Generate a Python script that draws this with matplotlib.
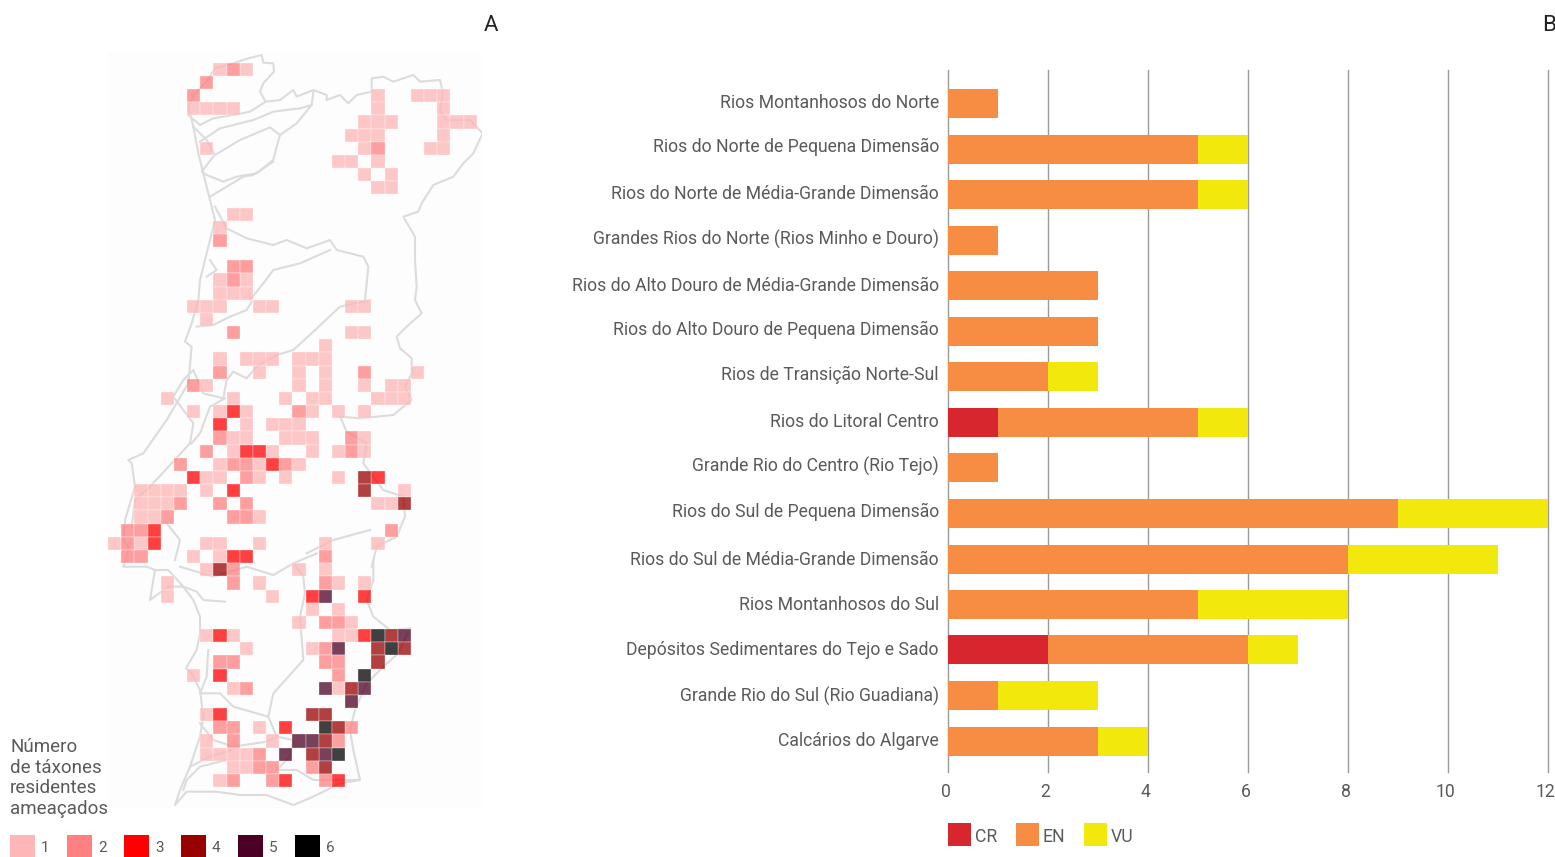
import numpy as np
import matplotlib
matplotlib.use('Agg')
import matplotlib.pyplot as plt
from matplotlib.patches import Rectangle
from matplotlib import transforms

plt.rcParams['font.family'] = ['Roboto', 'DejaVu Sans']

W, H = 1555, 857
TXT = '#5a5a5a'

# bar chart data
regions = ['Rios Montanhosos do Norte', 'Rios do Norte de Pequena Dimensão',
           'Rios do Norte de Média-Grande Dimensão', 'Grandes Rios do Norte (Rios Minho e Douro)',
           'Rios do Alto Douro de Média-Grande Dimensão', 'Rios do Alto Douro de Pequena Dimensão',
           'Rios de Transição Norte-Sul', 'Rios do Litoral Centro', 'Grande Rio do Centro (Rio Tejo)',
           'Rios do Sul de Pequena Dimensão', 'Rios do Sul de Média-Grande Dimensão',
           'Rios Montanhosos do Sul', 'Depósitos Sedimentares do Tejo e Sado',
           'Grande Rio do Sul (Rio Guadiana)', 'Calcários do Algarve']
cr = [0, 0, 0, 0, 0, 0, 0, 1, 0, 0, 0, 0, 2, 0, 0]
en = [1, 5, 5, 1, 3, 3, 2, 4, 1, 9, 8, 5, 4, 1, 3]
vu = [0, 1, 1, 0, 0, 0, 1, 1, 0, 3, 3, 3, 1, 2, 1]
label_shift = [-3, -4.5, -3, -3, -2, -4, -4, -2, -4, -4, -1, -2, -2, -1, -2]  # px

# map: threatened taxa per grid cell, {row: {value: [cols]}}
cells = {
    0: {1: [8, 10], 2: [9]}, 1: {2: [7]}, 2: {2: [6], 1: [20, 23, 24, 25]},
    3: {1: [6, 7, 8, 9, 20, 25]}, 4: {1: [19, 20, 21, 25, 26, 27]}, 5: {1: [18, 19, 20, 25]},
    6: {1: [7, 19, 24, 25], 2: [20]}, 7: {1: [17, 18, 20]}, 8: {1: [19, 21]}, 9: {1: [20, 21]},
    11: {1: [9, 10]}, 12: {1: [8]}, 13: {2: [8]}, 15: {2: [9, 10]}, 16: {1: [8, 10], 2: [9]},
    17: {1: [8, 9, 10]}, 18: {1: [6, 7, 8, 11, 12, 18, 19]}, 19: {1: [7]},
    20: {2: [9], 1: [18, 19]}, 21: {1: [16]}, 22: {1: [8, 10, 11, 12, 14, 15, 16]},
    23: {2: [8, 19], 1: [11, 14, 16, 23]}, 24: {2: [6], 1: [7, 14, 16, 19, 21, 22]},
    25: {1: [4, 9, 13, 15, 16, 20, 21, 22]}, 26: {1: [6, 8, 10, 15, 17, 19], 3: [9], 2: [14]},
    27: {3: [8], 1: [10, 12, 13, 14]}, 28: {2: [8, 18], 1: [9, 10, 13, 14, 15, 19]},
    29: {2: [7, 18], 1: [9, 12, 15, 17, 19], 3: [10, 11]},
    30: {2: [5, 9, 10, 13], 1: [8, 11, 14], 3: [12]},
    31: {3: [6, 20], 1: [7, 8, 11, 13, 17], 2: [10], 4: [19]},
    32: {1: [2, 3, 4, 5, 7, 22], 3: [9], 4: [19]}, 33: {1: [2, 3, 4, 20, 21], 2: [5, 8, 10], 4: [22]},
    34: {1: [2, 3, 11], 2: [4, 9, 10]}, 35: {2: [1, 2, 21], 3: [3]},
    36: {1: [0, 2, 7, 8, 11, 16, 20], 2: [1], 3: [3]}, 37: {2: [1, 2, 16], 1: [6, 8], 3: [9, 10]},
    38: {1: [7, 14, 16], 4: [8], 2: [9]}, 39: {1: [4, 11, 17, 19], 2: [9, 16]},
    40: {1: [4, 12], 3: [15, 19], 5: [16]}, 41: {1: [15, 17]}, 42: {1: [14, 18], 2: [16, 17]},
    43: {1: [7, 9, 17, 18], 3: [8, 19], 6: [20], 4: [21], 5: [22]},
    44: {1: [10, 15], 2: [16], 5: [17], 4: [20, 22], 6: [21]}, 45: {2: [8, 9, 16, 17], 4: [20]},
    46: {1: [6], 3: [8], 2: [17], 6: [19]}, 47: {1: [9, 17], 2: [10], 5: [16, 19], 4: [18]},
    48: {5: [18]}, 49: {1: [7], 3: [8], 4: [15, 16]}, 50: {2: [8, 9, 18], 1: [11], 3: [13], 6: [16], 4: [17]},
    51: {1: [7, 12], 2: [9, 17], 5: [14, 15], 4: [16]},
    52: {1: [7, 8, 9, 10], 2: [11], 5: [13, 16], 4: [15], 6: [17]},
    53: {1: [9, 10], 2: [11, 12, 15], 4: [16]}, 54: {1: [8], 2: [9, 12, 16], 3: [13, 17]},
}
level_colors = ['#ffb6b6', '#ff8080', '#ff0000', '#990000', '#4d0026', '#000000']
level_labels = ['1', '2', '3', '4', '5', '6']

border_n = [(265,200),(285,160),(320,125),(345,85),(400,70),(445,55),(485,45),(490,68),(520,70),(522,95),(490,130),
            (480,155),(497,185),(540,180),(580,150),(590,170),(640,150),(680,165),(680,180),(720,165),(745,190),
            (770,165),(815,155),(815,115),(850,110),(880,125),(940,105),(960,125),(1020,120),(1028,155),(1020,215),
            (1040,240),(1110,240),(1148,280),(1120,340),(1090,370),(1060,410),(1000,435),(965,490),(955,515),
            (910,530),(945,590),(945,660),(950,740),(945,780)]
border_c = [(945,0),(965,40),(920,80),(890,110),(900,145),(935,175),(935,220),(915,260),(935,300),(880,345),(780,355),
            (720,350),(740,395),(800,430),(790,490),(850,570),(910,590),(915,650),(890,710),(830,740),(815,800)]
border_s = [(820,30),(820,90),(800,150),(820,200),(870,240),(930,235),(895,310),(850,350),(800,400),(765,480),(750,540),
            (760,600),(780,690),(720,700),(640,740),(580,765),(500,735),(420,735),(350,725),(260,725),(225,765),
            (240,720),(270,650),(300,560),(310,500),(300,420),(275,370),(258,355),(290,300),(300,250),(300,200),
            (280,150),(250,110),(205,110),(150,150),(165,60),(140,50),(70,50),(85,0)]
coast_c = [(85,740),(70,720),(75,660),(105,560),(95,490),(85,480),(130,460),(200,360),(265,250),(275,140),(255,125),
           (275,70),(295,0)]
coast_n = [(295,780),(300,720),(325,620),(345,540),(330,480),(310,400),(295,340),(280,260),(265,200)]
inner_1 = [[(265,225),(300,255),(340,235),(400,225),(450,215),(497,185)],
           [(300,305),(360,265),(460,240),(520,215),(600,205),(635,195),(640,155)],
           [(280,260),(320,300),(345,345),(420,300),(510,262),(540,285),(530,320),(520,360),(470,400),(410,410),
            (370,425),(320,405),(305,395),(340,350)],
           [(635,195),(590,250),(540,285)],
           [(330,470),(380,440),(430,410),(460,405),(520,365)],
           [(345,500),(380,565),(440,595),(520,615),(560,600),(620,625),(690,600),(710,630),(790,650),(805,680),
            (795,780)],
           [(450,780),(490,730),(520,690),(600,670),(690,630)],
           [(330,660),(350,690),(320,710)]]
inner_2 = [[(810,0),(720,20),(640,95),(580,150),(530,165),(470,200),(440,235),(400,215),(380,240),(370,295),(310,280),
            (280,210),(250,240),(220,290),(280,370),(270,430),(150,560),(105,600),(95,680)],
           [(290,80),(340,75),(390,50),(440,30),(455,5)],
           [(375,295),(330,320),(300,400),(275,430)],
           [(200,670),(240,720),(225,780)],
           [(620,760),(700,720),(810,690)]]
inner_3 = [[(165,60),(205,60),(250,110),(290,125),(310,150),(375,155)],
           [(240,50),(340,80),(440,50),(520,75),(580,40),(650,10)],
           [(580,40),(610,80),(615,130),(600,200),(610,330),(520,430),(505,500)],
           [(325,300),(320,380),(300,430),(360,430),(400,470),(505,500),(530,560),(580,570),(570,620),(530,660),
            (590,660),(640,690),(700,690),(775,690)],
           [(300,520),(340,570),(400,590),(500,575),(530,560)],
           [(395,600),(330,620),(270,650)],
           [(380,630),(300,650),(260,690),(250,720)]]


def zp(pts, y0):
    a = np.array(pts, dtype=float)
    return 100 + a[:, 0] / 3, y0 + a[:, 1] / 3


def px_axes(x0, y0, x1, y1):
    return fig.add_axes([x0 / W, 1 - y1 / H, (x1 - x0) / W, (y1 - y0) / H])


fig = plt.figure(figsize=(W / 100, H / 100), dpi=100)

# --- map (axes in image pixels) ---
ax = px_axes(108, 52, 482, 808)
ax.set_xlim(108, 482)
ax.set_ylim(808, 52)
ax.axis('off')
ax.add_patch(Rectangle((108, 52), 374, 756, fc='#fdfdfd', ec='none', zorder=0))

for pts, y0 in [(border_n, 40), (coast_n, 40), (border_c, 300), (coast_c, 300), (border_s, 550)]:
    ax.plot(*zp(pts, y0), color='#dcdcdc', lw=1.5, zorder=1)
for group, y0 in [(inner_1, 40), (inner_2, 300), (inner_3, 550)]:
    for pts in group:
        ax.plot(*zp(pts, y0), color='#dcdcdc', lw=1.5, zorder=1)

cs = 13.17
for r, row in cells.items():
    for val, cols in row.items():
        ax.bar(108 + cs * np.array(cols), cs, width=cs, bottom=62.7 + cs * r, align='edge',
               color=level_colors[val - 1], alpha=0.75, edgecolor='#ffffff', linewidth=0.3, zorder=2)

# map legend
fig.text(10 / W, 1 - 778 / H, 'Número\nde táxones\nresidentes\nameaçados', fontsize=13.5, color=TXT,
         linespacing=1.21, va='center', ha='left')
for i, (c, lab) in enumerate(zip(level_colors, level_labels)):
    x = 10 + 57 * i
    fig.patches.append(Rectangle((x / W, 1 - 857 / H), 25 / W, 22 / H, transform=fig.transFigure, fc=c, ec='none'))
    fig.text((x + 31) / W, 1 - 848 / H, lab, fontsize=11, color=TXT, va='center', ha='left')

# --- bars ---
ax2 = px_axes(947.5, 70, 1547.5, 772)
ypos = np.arange(len(regions))
cr_a, en_a, vu_a = np.array(cr), np.array(en), np.array(vu)
bh = 29 / 45.5
ax2.barh(ypos, cr_a, height=bh, color='#d8262f', zorder=3)
ax2.barh(ypos, en_a, left=cr_a, height=bh, color='#f78d42', zorder=3)
ax2.barh(ypos, vu_a, left=cr_a + en_a, height=bh, color='#f2e80c', zorder=3)
ax2.set_xlim(0, 12)
ax2.set_ylim(14 + 31 / 45.5, -34 / 45.5)
ax2.set_xticks(range(0, 13, 2))
ax2.set_yticks(ypos + np.array(label_shift) / 45.5)
ax2.set_yticklabels(regions)
ax2.tick_params(axis='both', length=0, labelcolor=TXT, labelsize=12.7)
ax2.tick_params(axis='y', pad=6.2)
ax2.tick_params(axis='x', pad=8)
shift = transforms.ScaledTranslation(-2 / 100, 0, fig.dpi_scale_trans)
for t in ax2.get_xticklabels():
    t.set_transform(t.get_transform() + shift)
ax2.xaxis.grid(True, color='#9a9a9a', lw=1, zorder=0)
for g in ax2.get_xgridlines():
    g.set_clip_on(False)
ax2.yaxis.grid(False)
ax2.set_axisbelow(True)
for s in ax2.spines.values():
    s.set_visible(False)

for name, c, x in [('CR', '#d8262f', 948), ('EN', '#f78d42', 1016), ('VU', '#f2e80c', 1084)]:
    fig.patches.append(Rectangle((x / W, 1 - 846 / H), 23 / W, 23 / H, transform=fig.transFigure, fc=c, ec='none'))
    fig.text((x + 27) / W, 1 - 836.5 / H, name, fontsize=12.7, color=TXT, va='center', ha='left')

fig.text(491 / W, 1 - 25.5 / H, 'A', fontsize=16, color='#222222', ha='center', va='center')
fig.text(1549 / W, 1 - 25.5 / H, 'B', fontsize=16, color='#222222', ha='center', va='center')

fig.savefig('out.png', dpi=100)
